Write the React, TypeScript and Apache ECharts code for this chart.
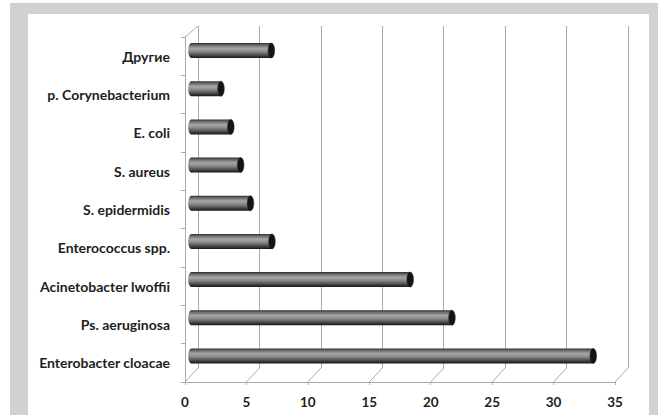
import React, { useEffect, useRef } from "react";
import * as echarts from "echarts";

const categories = [
  "Другие",
  "p. Corynebacterium",
  "E. coli",
  "S. aureus",
  "S. epidermidis",
  "Enterococcus spp.",
  "Acinetobacter lwoffii",
  "Ps. aeruginosa",
  "Enterobacter cloacae",
];
const values = [6.5, 2.4, 3.2, 4.0, 4.8, 6.55, 17.8, 21.2, 32.7];
const xTicks = [0, 5, 10, 15, 20, 25, 30, 35];

const W = 658;
const H = 415;
const DEPTH_X = 13;
const DEPTH_Y = 12;
const GRID_COLOR = "#ababab";
const FONT = "Lato, 'Open Sans', sans-serif";

export default function App() {
  const ref = useRef<HTMLDivElement>(null);
  useEffect(() => {
    if (!ref.current) return;
    const chart = echarts.init(ref.current, null, { renderer: "svg" });
    const xBase = { type: "value", min: 0, max: 35, interval: 5 };
    const barGrad = new echarts.graphic.LinearGradient(0, 0, 0, 1, [
      { offset: 0, color: "#2e2e2e" },
      { offset: 0.15, color: "#6e6e6e" },
      { offset: 0.35, color: "#a6a6a6" },
      { offset: 0.55, color: "#8c8c8c" },
      { offset: 0.8, color: "#4c4c4c" },
      { offset: 1, color: "#151515" },
    ]);
    const option: any = {
      animation: false,
      backgroundColor: "#ffffff",
      graphic: [
        { type: "rect", z: -10, shape: { x: 10, y: 3, width: W - 10, height: H - 3 }, style: { fill: "#d0d1d3" } },
        { type: "rect", z: -9, shape: { x: 28, y: 14, width: 621, height: H - 14 }, style: { fill: "#ffffff" } },
      ],
      grid: [
        { left: 198, right: W - 628, top: 26, bottom: H - 368 },
        { left: 191.5, right: W - 621.5, top: 31.5, bottom: H - 375 },
        { left: 185, right: W - 615, top: 37, bottom: H - 382 },
      ],
      xAxis: [
        {
          ...xBase,
          gridIndex: 0,
          axisLine: { show: false },
          axisTick: { show: false },
          axisLabel: { show: false },
          splitLine: { show: true, lineStyle: { color: GRID_COLOR, width: 1 } },
        },
        { ...xBase, gridIndex: 1, show: false },
        {
          ...xBase,
          gridIndex: 2,
          axisLine: { show: true, lineStyle: { color: GRID_COLOR } },
          axisTick: { show: true, length: 3, lineStyle: { color: GRID_COLOR } },
          axisLabel: {
            show: true,
            margin: 13,
            color: "#1e1e1e",
            fontFamily: FONT,
            fontWeight: "bold",
            fontSize: 13.5,
          },
          splitLine: { show: false },
        },
      ],
      yAxis: [
        { type: "category", gridIndex: 0, data: categories, inverse: true, show: false },
        { type: "category", gridIndex: 1, data: categories, inverse: true, show: false },
        {
          type: "category",
          gridIndex: 2,
          data: categories,
          inverse: true,
          axisLine: { show: true, lineStyle: { color: GRID_COLOR } },
          axisTick: { show: true, length: 4, lineStyle: { color: GRID_COLOR } },
          axisLabel: {
            margin: 15,
            color: "#1e1e1e",
            fontFamily: FONT,
            fontWeight: "bold",
            fontSize: 14,
          },
          splitLine: { show: false },
        },
      ],
      series: [
        {
          type: "custom",
          xAxisIndex: 2,
          yAxisIndex: 2,
          silent: true,
          z: 1,
          data: xTicks.map((t) => [t, 0]),
          renderItem: (params: any, api: any) => {
            const cs = params.coordSys;
            const v = api.value(0);
            const x = api.coord([v, 0])[0];
            const yb = cs.y + cs.height;
            const children: any[] = [
              {
                type: "line",
                shape: { x1: x, y1: yb, x2: x + DEPTH_X, y2: yb - DEPTH_Y - 2 },
                style: { stroke: GRID_COLOR, lineWidth: 1 },
              },
            ];
            if (params.dataIndex === 0) {
              children.push({
                type: "line",
                shape: { x1: cs.x, y1: cs.y, x2: cs.x + DEPTH_X, y2: cs.y - 11 },
                style: { stroke: GRID_COLOR, lineWidth: 1 },
              });
            }
            return { type: "group", children };
          },
        },
        {
          type: "custom",
          xAxisIndex: 1,
          yAxisIndex: 1,
          z: 5,
          data: values.map((v, i) => [v, i]),
          renderItem: (params: any, api: any) => {
            const v = api.value(0);
            const idx = api.value(1);
            const p0 = api.coord([0, idx]);
            const p1 = api.coord([v, idx]);
            const h = 15;
            const ry = h / 2;
            const rx = 3.3;
            const cy = p0[1];
            return {
              type: "group",
              children: [
                { type: "ellipse", shape: { cx: p0[0], cy, rx, ry }, style: { fill: barGrad } },
                {
                  type: "rect",
                  shape: { x: p0[0], y: cy - ry, width: p1[0] - p0[0], height: h },
                  style: { fill: barGrad },
                },
                {
                  type: "ellipse",
                  shape: { cx: p1[0], cy, rx, ry },
                  style: { fill: "#141414", stroke: "#2a2a2a", lineWidth: 0.5 },
                },
              ],
            };
          },
        },
      ],
    };
    chart.setOption(option);
    return () => chart.dispose();
  }, []);
  return <div ref={ref} style={{ position: "fixed", left: 0, top: 0, width: W, height: H }} />;
}
